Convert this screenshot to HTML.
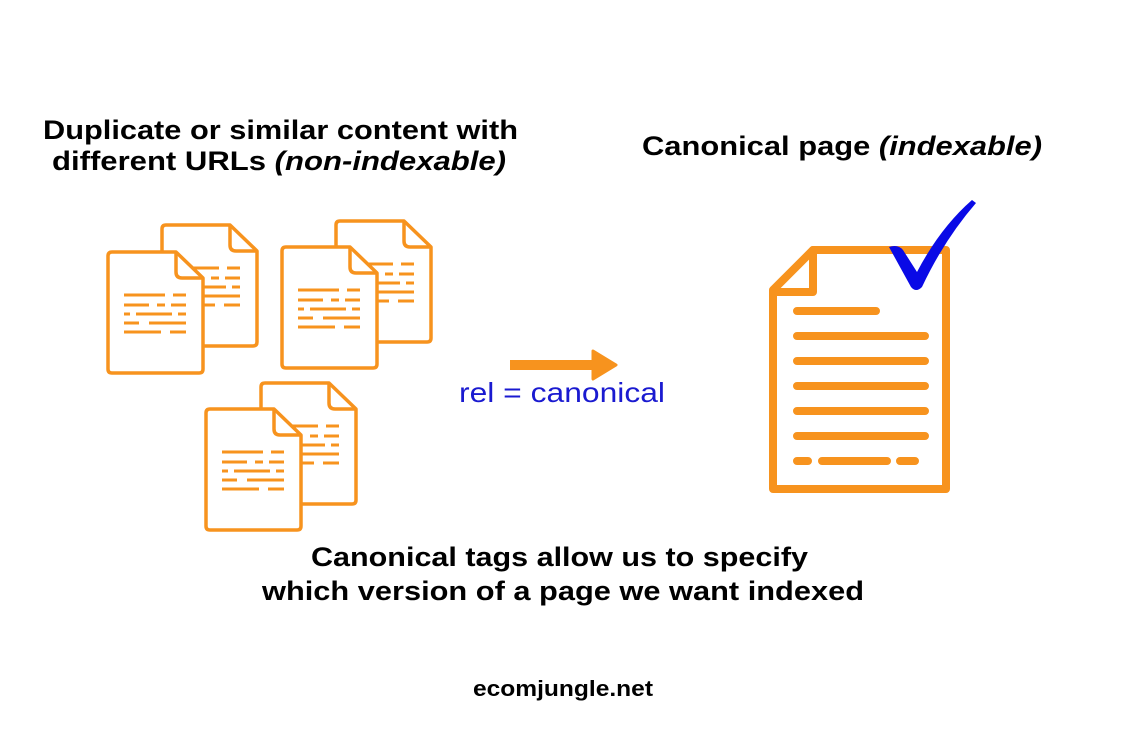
<!DOCTYPE html>
<html><head><meta charset="utf-8"><style>html,body{margin:0;padding:0;background:#fff}svg{display:block}</style></head>
<body>
<svg width="1125" height="750" viewBox="0 0 1125 750" xmlns="http://www.w3.org/2000/svg" font-family="Liberation Sans, sans-serif">
<defs>
<g id="doc" fill="#fff" stroke="#f7931e" stroke-width="3.5" stroke-linejoin="round">
  <path d="M4 0 H68 L95 26 V117 Q95 121 91 121 H4 Q0 121 0 117 V4 Q0 0 4 0 Z"/>
  <path d="M68 0 V20 Q68 26 74 26 H95" fill="none"/>
</g>
<g id="lines" stroke="#f7931e" stroke-width="3" fill="none">
  <path d="M16 43 H57 M65 43 H78 M16 53 H41 M49 53 H57 M63 53 H78 M16 62 H22 M28 62 H64 M70 62 H78 M16 71 H31 M41 71 H78 M16 80 H53 M62 80 H78"/>
</g>
</defs>
<g font-weight="bold" fill="#000" font-size="27">
<text x="43" y="139" textLength="475" lengthAdjust="spacingAndGlyphs">Duplicate or similar content with</text>
<text x="52" y="170" textLength="454" lengthAdjust="spacingAndGlyphs">different URLs <tspan font-style="italic">(non-indexable)</tspan></text>
<text x="642" y="155" textLength="400" lengthAdjust="spacingAndGlyphs">Canonical page <tspan font-style="italic">(indexable)</tspan></text>
<text x="311" y="566" textLength="497" lengthAdjust="spacingAndGlyphs">Canonical tags allow us to specify</text>
<text x="262" y="600" textLength="602" lengthAdjust="spacingAndGlyphs">which version of a page we want indexed</text>
<text x="473" y="696" font-size="22" textLength="180" lengthAdjust="spacingAndGlyphs">ecomjungle.net</text>
</g>
<!-- pair 1 -->
<g transform="translate(162,225)"><use href="#doc"/><use href="#lines"/></g>
<g transform="translate(108,252)"><use href="#doc"/><use href="#lines"/></g>
<!-- pair 2 -->
<g transform="translate(336,221)"><use href="#doc"/><use href="#lines"/></g>
<g transform="translate(282,247)"><use href="#doc"/><use href="#lines"/></g>
<!-- pair 3 -->
<g transform="translate(261,383)"><use href="#doc"/><use href="#lines"/></g>
<g transform="translate(206,409)"><use href="#doc"/><use href="#lines"/></g>
<!-- arrow -->
<rect x="510" y="360" width="86" height="10" fill="#f7931e"/>
<path d="M593 351 L616 365 L593 379 Z" fill="#f7931e" stroke="#f7931e" stroke-width="3" stroke-linejoin="round"/>
<text x="459" y="402" font-size="28" fill="#1a1ad0" textLength="206" lengthAdjust="spacingAndGlyphs">rel = canonical</text>
<!-- big doc -->
<g fill="none" stroke="#f7931e" stroke-width="8" stroke-linejoin="round" stroke-linecap="round">
  <path d="M813 250 H946 V489 H773 V290 Z"/>
  <path d="M813 250 V292 H773"/>
  <path d="M797 311 H876 M797 336 H925 M797 361 H925 M797 386 H925 M797 411 H925 M797 436 H925 M797 461 H808 M822 461 H887 M900 461 H915"/>
</g>
<!-- checkmark -->
<path d="M889 247 Q898 244 903 250 L917 272 Q940 228 972 200 L976 203 Q944 240 922 287 Q916 293 911 287 Z" fill="#0a0ae6"/>
</svg>
</body></html>
